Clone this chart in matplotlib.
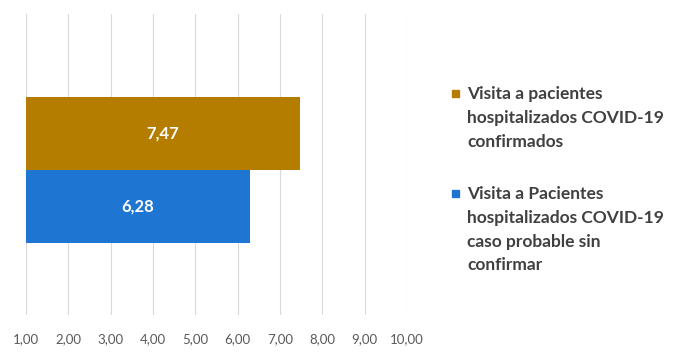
import matplotlib
matplotlib.use("Agg")
import matplotlib.pyplot as plt

series_names = ["Visita a pacientes\nhospitalizados COVID-19\nconfirmados",
                "Visita a Pacientes\nhospitalizados COVID-19\ncaso probable sin\nconfirmar"]
values = [7.47, 6.28]
value_labels = ["7,47", "6,28"]
colors = ["#B47D00", "#1F76D2"]
xticks = [1, 2, 3, 4, 5, 6, 7, 8, 9, 10]
xtick_labels = ["1,00", "2,00", "3,00", "4,00", "5,00", "6,00", "7,00", "8,00", "9,00", "10,00"]

plt.rcParams['font.family'] = ['Lato', 'DejaVu Sans']

fig = plt.figure(figsize=(6.78, 3.56), dpi=100)
ax = fig.add_axes([26/678, 41/356, 381/678, 301/356])

base = 1.0
ypos = [0.103, -0.140]
h = 0.243
for y, v, c, lab in zip(ypos, values, colors, value_labels):
    ax.barh(y, v - base, left=base, height=h, color=c, zorder=3)
    ax.text(base + (v - base) / 2, y, lab, ha='center', va='center',
            color='white', fontsize=12, fontweight='bold', zorder=4)

ax.set_xlim(1, 10)
ax.set_ylim(-0.5, 0.5)
ax.set_xticks(xticks)
ax.set_xticklabels(xtick_labels, fontsize=9.5, color='#595959')
ax.set_yticks([])
ax.tick_params(axis='x', length=0, pad=13)
ax.grid(axis='x', color='#D9D9D9', linewidth=0.8, zorder=0)
for s in ax.spines.values():
    s.set_visible(False)

# legend
leg_y = [93, 193]
for name, c, ly in zip(series_names, colors, leg_y):
    fig.patches.append(plt.Rectangle((452/678, 1 - (ly + 4)/356), 7/678, 7/356,
                                     transform=fig.transFigure, color=c, figure=fig))
    fig.text(467/678, 1 - (ly - 7)/356, name, ha='left', va='top', fontsize=12.5,
             fontweight='bold', color='#404040', linespacing=1.6)

fig.savefig("out.png", dpi=100)
